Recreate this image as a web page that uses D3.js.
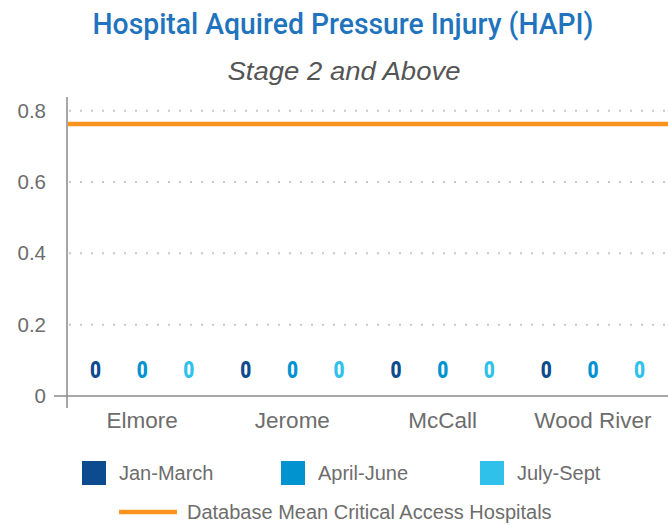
<!DOCTYPE html>
<html>
<head>
<meta charset="utf-8">
<script src="https://cdn.jsdelivr.net/npm/d3@7"></script>
<style>
  body { margin: 0; background: #fff; }
  svg { display: block; font-family: "Liberation Sans", Arial, sans-serif; }
</style>
</head>
<body>
<svg id="chart" width="668" height="525"></svg>
<script>
// data
var hospitals = ["Elmore", "Jerome", "McCall", "Wood River"];
var quarters = ["Jan-March", "April-June", "July-Sept"];
var janMarch = [0, 0, 0, 0];
var aprilJune = [0, 0, 0, 0];
var julySept = [0, 0, 0, 0];
var dbMean = 0.763;
var yTicks = [0, 0.2, 0.4, 0.6, 0.8];
var meanLabel = "Database Mean Critical Access Hospitals";

var colors = ["#0b4b8e", "#0093cf", "#2fc1e9"];
var seriesVals = [janMarch, aprilJune, julySept];

var svg = d3.select("#chart");

// set plot area
var pLeft = 67, pRight = 668, pTop = 110.7, pBottom = 396;

var x0 = d3.scaleBand().domain(hospitals).range([pLeft, pRight]);
var x1 = d3.scalePoint().domain(quarters).range([0, x0.bandwidth()]).padding(0.61);
var y = d3.scaleLinear().domain([0, 0.8]).range([pBottom, pTop]);

// titles
svg.append("text")
    .attr("x", 343).attr("y", 34)
    .attr("text-anchor", "middle")
    .attr("textLength", 501).attr("lengthAdjust", "spacingAndGlyphs")
    .style("font-family", "Roboto, sans-serif")
    .style("font-weight", "500")
    .style("font-size", "30px")
    .style("fill", "#1f74bd")
    .text("Hospital Aquired Pressure Injury (HAPI)");

svg.append("text")
    .attr("x", 344).attr("y", 80)
    .attr("text-anchor", "middle")
    .attr("textLength", 233).attr("lengthAdjust", "spacingAndGlyphs")
    .style("font-size", "26px")
    .style("font-style", "italic")
    .style("fill", "#555")
    .text("Stage 2 and Above");

// dotted grid
svg.append("g").selectAll("line")
    .data(yTicks.filter(function(d) { return d > 0; }))
    .enter().append("line")
      .attr("x1", pLeft + 2).attr("x2", pRight)
      .attr("y1", function(d) { return y(d); })
      .attr("y2", function(d) { return y(d); })
      .style("stroke", "#c8c8c8")
      .style("stroke-width", 2)
      .style("stroke-dasharray", "2,9");

// y axis labels
var yAxis = svg.append("g")
    .attr("transform", "translate(" + pLeft + ",0)")
    .call(d3.axisLeft(y).tickValues(yTicks).tickSize(0).tickPadding(21)
      .tickFormat(function(d) { return d === 0 ? "0" : d.toFixed(1); }));
yAxis.select(".domain").remove();
yAxis.selectAll("text").style("font-size", "20.5px").style("fill", "#6d6d6d")
    .style("font-family", "'Liberation Sans', Arial, sans-serif");

// x axis labels
var xAxis = svg.append("g")
    .attr("transform", "translate(0," + pBottom + ")")
    .call(d3.axisBottom(x0).tickSize(0).tickPadding(16));
xAxis.select(".domain").remove();
xAxis.selectAll("text").style("font-size", "22.5px").style("fill", "#6d6d6d")
    .style("font-family", "'Liberation Sans', Arial, sans-serif");

// axis lines
svg.append("line")
    .attr("x1", pLeft).attr("x2", pLeft).attr("y1", 97).attr("y2", 408)
    .style("stroke", "#8a8a8a").style("stroke-width", 1.5);
svg.append("line")
    .attr("x1", 54).attr("x2", pRight).attr("y1", pBottom).attr("y2", pBottom)
    .style("stroke", "#8a8a8a").style("stroke-width", 1.5);

// bars + value labels
var groups = svg.append("g").selectAll("g")
    .data(hospitals)
    .enter().append("g")
      .attr("transform", function(d) { return "translate(" + x0(d) + ",0)"; });

function cells(h, i) {
  return quarters.map(function(q, k) { return {q: q, k: k, v: seriesVals[k][i]}; });
}

groups.selectAll("rect")
    .data(cells)
    .enter().append("rect")
      .attr("x", function(d) { return x1(d.q) - 12; })
      .attr("width", 24)
      .attr("y", function(d) { return y(d.v); })
      .attr("height", function(d) { return y(0) - y(d.v); })
      .style("fill", function(d) { return colors[d.k]; });

groups.selectAll("text")
    .data(cells)
    .enter().append("text")
      .attr("x", function(d) { return x1(d.q); })
      .attr("y", function(d) { return y(d.v) - 18; })
      .attr("text-anchor", "middle")
      .attr("textLength", 11).attr("lengthAdjust", "spacingAndGlyphs")
      .style("font-family", "Roboto, sans-serif")
      .style("font-weight", "900")
      .style("font-size", "24px")
      .style("fill", function(d) { return colors[d.k]; })
      .text(function(d) { return d.v; });

// database mean line
svg.append("line")
    .attr("x1", pLeft + 1).attr("x2", pRight)
    .attr("y1", y(dbMean)).attr("y2", y(dbMean))
    .style("stroke", "#f7931e").style("stroke-width", 4.5);

// legend
var legend = svg.append("g").selectAll("g")
    .data(quarters)
    .enter().append("g")
      .attr("transform", function(d, i) { return "translate(" + (82 + i * 199) + ",461)"; });
legend.append("rect")
    .attr("width", 24).attr("height", 24)
    .style("fill", function(d, i) { return colors[i]; });
legend.append("text")
    .attr("x", 37).attr("y", 12).attr("dy", "0.35em")
    .style("font-size", "20px").style("fill", "#6d6d6d")
    .text(function(d) { return d; });

svg.append("line")
    .attr("x1", 119).attr("x2", 177).attr("y1", 512).attr("y2", 512)
    .style("stroke", "#f7931e").style("stroke-width", 4.5);
svg.append("text")
    .attr("x", 187).attr("y", 512).attr("dy", "0.35em")
    .style("font-size", "20px").style("fill", "#6d6d6d")
    .text(meanLabel);
</script>
</body>
</html>
